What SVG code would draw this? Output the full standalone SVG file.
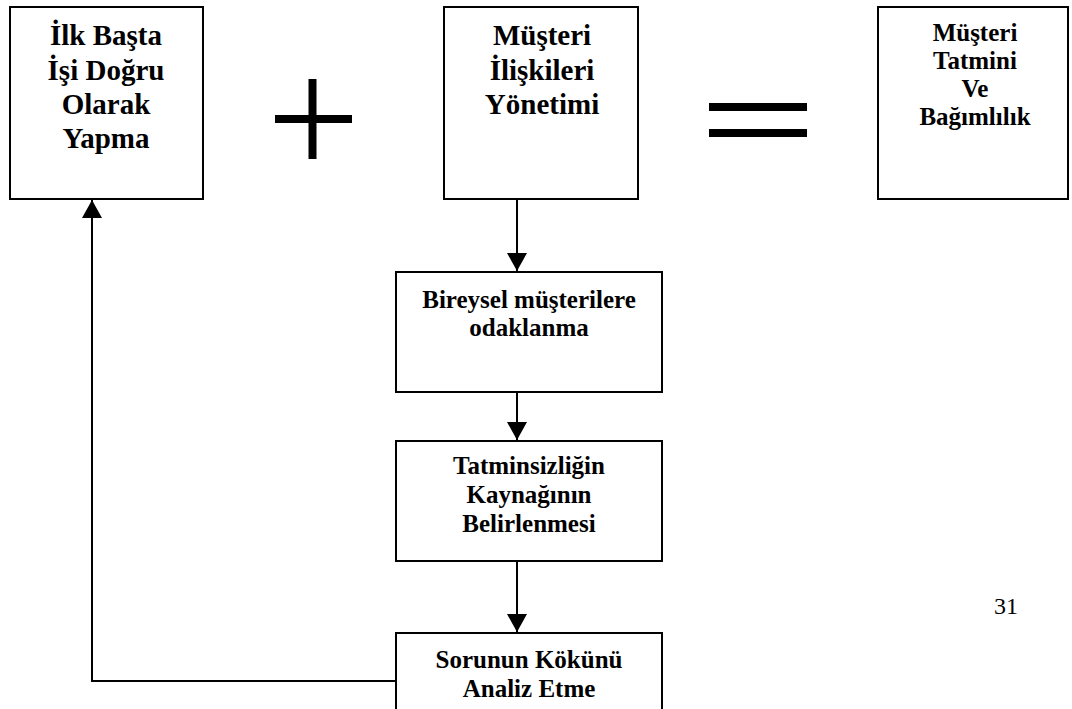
<svg xmlns="http://www.w3.org/2000/svg" width="1072" height="709" viewBox="0 0 1072 709">
  <style>
    .box { fill: #ffffff; stroke: #000000; stroke-width: 2; }
    .lbl { font-family: "Liberation Serif", "Times New Roman", serif; font-weight: bold; fill: #000000; text-anchor: middle; }
    .big { font-size: 29px; }
    .mid { font-size: 25px; }
    .sm { font-size: 25px; }
    .edge { fill: none; stroke: #000000; stroke-width: 2; }
    .op { stroke: #000000; stroke-width: 8; }
    .pg { font-family: "Liberation Serif", "Times New Roman", serif; font-size: 24px; fill: #000000; text-anchor: middle; }
  </style>
  <defs>
    <marker id="arrow" markerWidth="18" markerHeight="20" refX="18" refY="10" orient="auto" markerUnits="userSpaceOnUse">
      <path d="M0,0 L18,10 L0,20 Z" fill="#000000"/>
    </marker>
  </defs>
  <rect width="1072" height="709" fill="#ffffff"/>

  <!-- connectors -->
  <g id="connectors">
    <line class="edge" x1="517" y1="199" x2="517" y2="271" marker-end="url(#arrow)"/>
    <line class="edge" x1="517" y1="392" x2="517" y2="440" marker-end="url(#arrow)"/>
    <line class="edge" x1="517" y1="561" x2="517" y2="632" marker-end="url(#arrow)"/>
    <polyline class="edge" points="396,681 92,681 92,200" marker-end="url(#arrow)"/>
  </g>

  <!-- operators -->
  <g id="plus">
    <line class="op" x1="312.5" y1="79" x2="312.5" y2="159"/>
    <line class="op" x1="275" y1="119" x2="352" y2="119"/>
  </g>
  <g id="equals">
    <line class="op" x1="709" y1="107" x2="807" y2="107"/>
    <line class="op" x1="709" y1="133" x2="807" y2="133"/>
  </g>

  <g id="node-ilk-basta">
    <rect class="box" x="10" y="7" width="193" height="192"/>
    <text class="lbl big" x="106" y="45">İlk Başta</text>
    <text class="lbl big" x="106" y="80">İşi Doğru</text>
    <text class="lbl big" x="106" y="114">Olarak</text>
    <text class="lbl big" x="106" y="148">Yapma</text>
  </g>

  <g id="node-mir">
    <rect class="box" x="444" y="7" width="194" height="192"/>
    <text class="lbl big" x="542" y="45">Müşteri</text>
    <text class="lbl big" x="542" y="80">İlişkileri</text>
    <text class="lbl big" x="542" y="114">Yönetimi</text>
  </g>

  <g id="node-tatmin">
    <rect class="box" x="878" y="7" width="190" height="192"/>
    <text class="lbl sm" x="975" y="41">Müşteri</text>
    <text class="lbl sm" x="975" y="69">Tatmini</text>
    <text class="lbl sm" x="975" y="97">Ve</text>
    <text class="lbl sm" x="975" y="125">Bağımlılık</text>
  </g>

  <g id="node-bireysel">
    <rect class="box" x="396" y="272" width="266" height="120"/>
    <text class="lbl mid" x="529" y="308">Bireysel müşterilere</text>
    <text class="lbl mid" x="529" y="336">odaklanma</text>
  </g>

  <g id="node-kaynak">
    <rect class="box" x="396" y="441" width="266" height="120"/>
    <text class="lbl mid" x="529" y="474">Tatminsizliğin</text>
    <text class="lbl mid" x="529" y="503">Kaynağının</text>
    <text class="lbl mid" x="529" y="532">Belirlenmesi</text>
  </g>

  <g id="node-sorun">
    <rect class="box" x="396" y="633" width="266" height="90"/>
    <text class="lbl mid" x="529" y="668">Sorunun Kökünü</text>
    <text class="lbl mid" x="529" y="697">Analiz Etme</text>
  </g>

  <text class="pg" x="1006" y="614">31</text>
</svg>
